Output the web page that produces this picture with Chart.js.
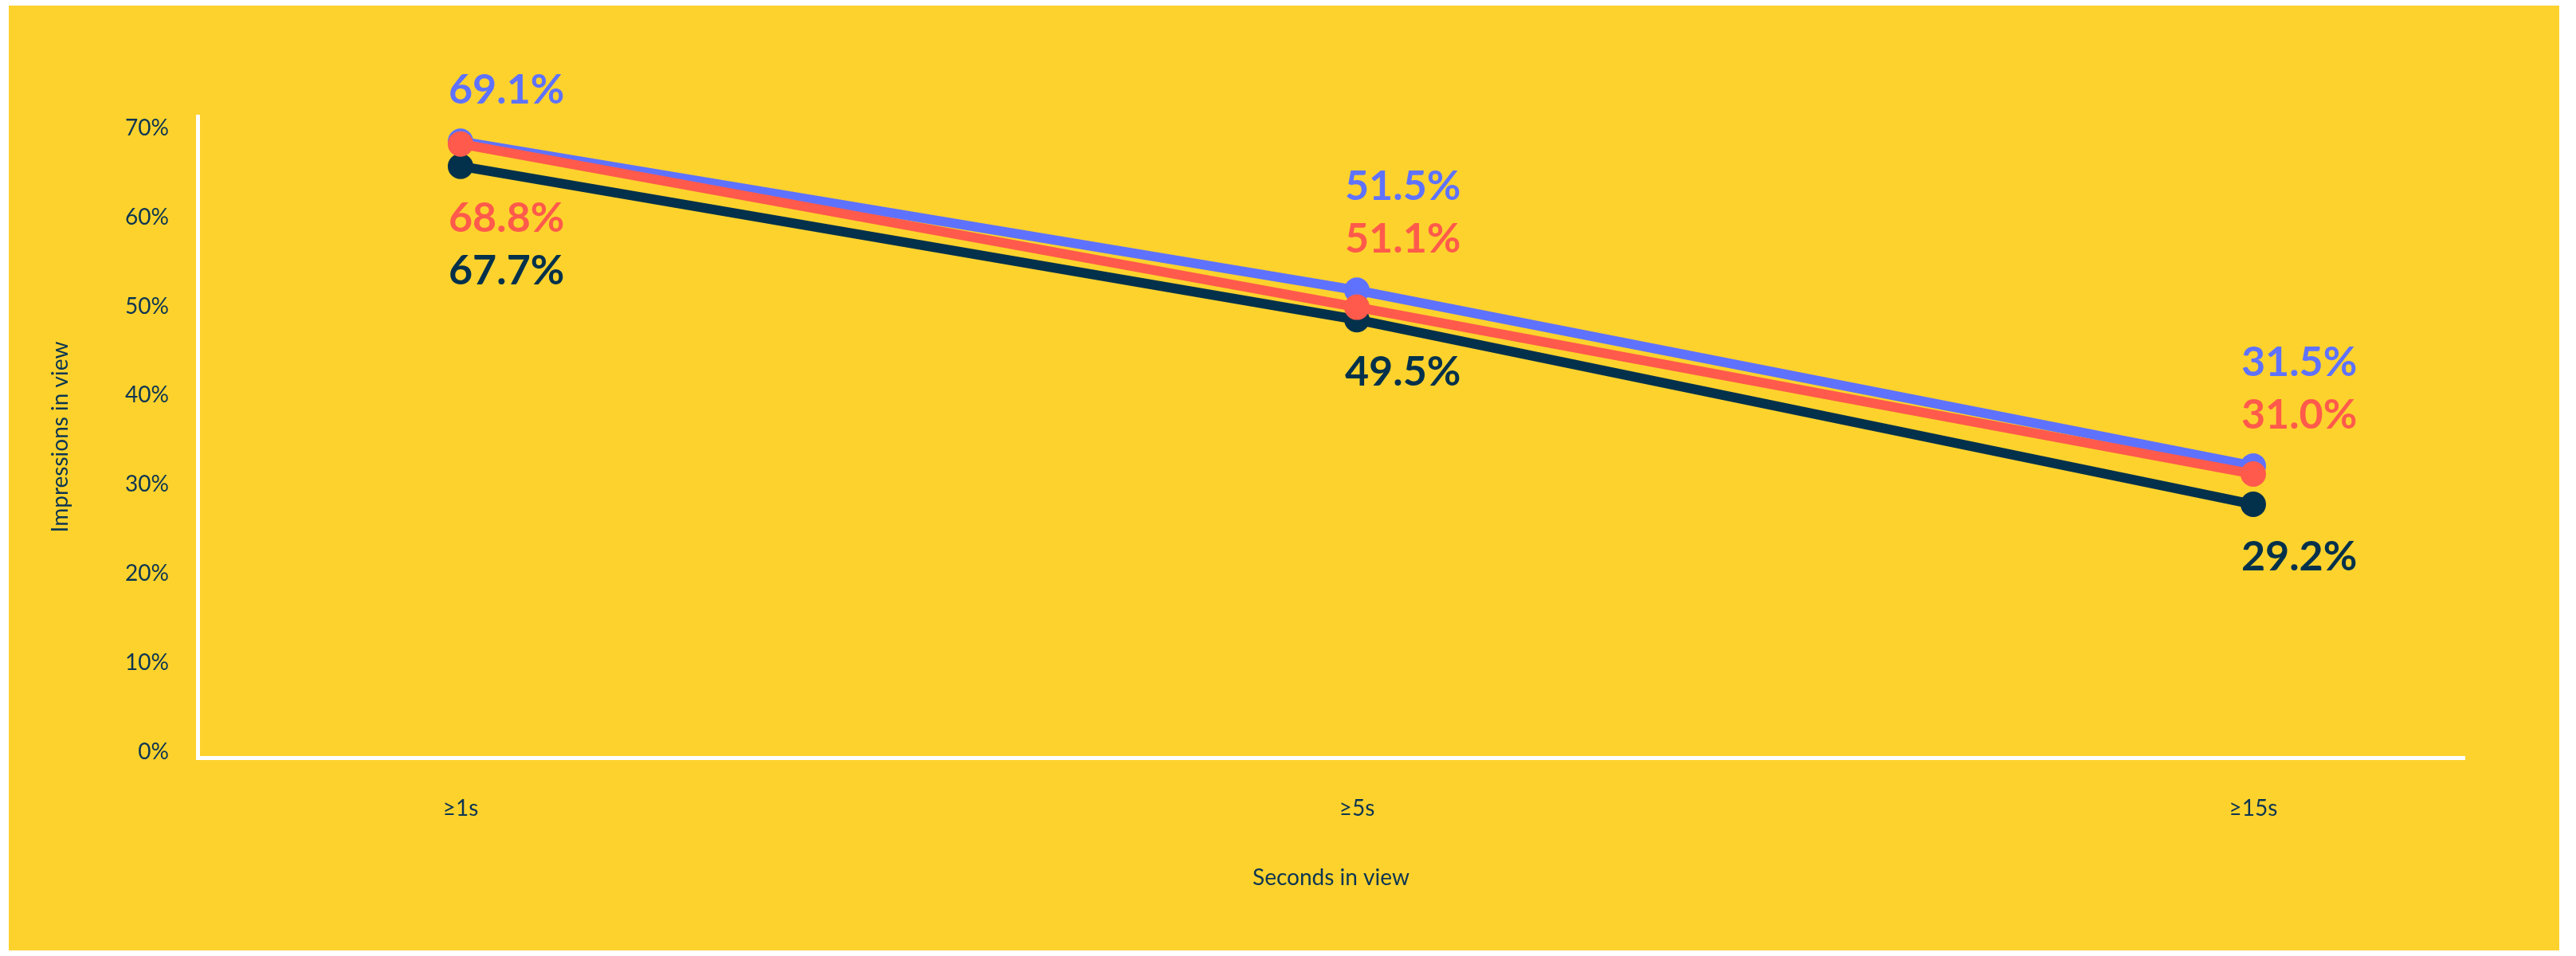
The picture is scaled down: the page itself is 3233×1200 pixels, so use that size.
<!DOCTYPE html>
<html>
<head>
<meta charset="utf-8">
<script src="https://cdn.jsdelivr.net/npm/chart.js@4"></script>
<style>
  html, body { margin: 0; padding: 0; background: #ffffff; }
  #panel {
    position: absolute; left: 11px; top: 7px;
    width: 3201px; height: 1186px;
    background: #fdd22d;
  }
  canvas { display: block; }
</style>
</head>
<body>
<div id="panel"><canvas id="chart" width="3201" height="1186"></canvas></div>
<script>
// categories on the x axis
const categories = ['≥1s', '≥5s', '≥15s'];
// where the points sit
const blue_values = [68.5, 51.8, 32.1];
const red_values = [68.2, 49.9, 31.2];
const navy_values = [65.7, 48.5, 27.8];
// what the labels next to the points say
const blue_labels = ['69.1%', '51.5%', '31.5%'];
const red_labels = ['68.8%', '51.1%', '31.0%'];
const navy_labels = ['67.7%', '49.5%', '29.2%'];
const y_ticks = [0, 10, 20, 30, 40, 50, 60, 70];

const colors = {
    blue: '#5f72fd',
    red: '#ff5a4b',
    navy: '#03314b',
    text: '#0c3552',
    axis: '#ffffff'
};

function to_points(values) {
    return values.map((v, i) => ({ x: i, y: v }));
}

function make_dataset(values, labels, color, order) {
    return {
        data: to_points(values),
        value_labels: labels,
        borderColor: color,
        backgroundColor: color,
        borderWidth: 12,
        pointRadius: 16,
        pointHoverRadius: 16,
        pointBorderWidth: 0,
        pointBackgroundColor: color,
        tension: 0,
        order: order
    };
}

// draws the big coloured percentages, stacked above / below the points
const value_labels_plugin = {
    id: 'valueLabels',
    afterDatasetsDraw(chart, args, opts) {
        const ctx = chart.ctx;
        const datasets = chart.data.datasets;
        ctx.save();
        ctx.font = opts.font;
        ctx.textAlign = 'left';
        ctx.textBaseline = 'middle';
        categories.forEach((cat, i) => {
            const ys = datasets.map((ds, d) => chart.getDatasetMeta(d).data[i].y);
            const x = chart.getDatasetMeta(0).data[i].x + opts.dx;
            const top = Math.min(...ys);
            const bottom = Math.max(...ys);
            const n_above = opts.above[i];
            datasets.forEach((ds, d) => {
                let y;
                if (d < n_above) {
                    y = top - opts.gapAbove - (n_above - 1 - d) * opts.lineGap;
                } else {
                    y = bottom + opts.gapBelow + (d - n_above) * opts.lineGap;
                }
                ctx.fillStyle = ds.borderColor;
                ctx.fillText(ds.value_labels[i], x, y);
            });
        });
        ctx.restore();
    }
};

function draw_chart() {
    const container = document.getElementById('chart');
    const config = {
        type: 'line',
        data: {
            datasets: [
                make_dataset(blue_values, blue_labels, colors.blue, 1),
                make_dataset(red_values, red_labels, colors.red, 0),
                make_dataset(navy_values, navy_labels, colors.navy, 2)
            ]
        },
        options: {
            responsive: false,
            animation: false,
            devicePixelRatio: 1,
            layout: {
                padding: { top: 139, right: 119, bottom: 0, left: 0 }
            },
            scales: {
                x: {
                    type: 'linear',
                    min: -0.2933,
                    max: 2.2356,
                    afterBuildTicks: (scale) => {
                        scale.ticks = categories.map((c, i) => ({ value: i }));
                    },
                    afterFit: (scale) => { scale.height = 242; },
                    grid: { display: false, drawTicks: false },
                    border: { display: true, color: colors.axis, width: 5 },
                    ticks: {
                        autoSkip: false,
                        maxRotation: 0,
                        padding: 47,
                        color: colors.text,
                        font: { family: 'Lato', size: 28 },
                        callback: (value) => categories[value]
                    },
                    title: {
                        display: true,
                        text: 'Seconds in view',
                        color: colors.text,
                        font: { family: 'Lato', size: 28 },
                        padding: { top: 0, bottom: 74 }
                    }
                },
                y: {
                    min: -0.6,
                    max: 71.3,
                    afterBuildTicks: (scale) => {
                        scale.ticks = y_ticks.map(v => ({ value: v }));
                    },
                    afterFit: (scale) => { scale.width = 237; },
                    grid: { display: false, drawTicks: false },
                    border: { display: true, color: colors.axis, width: 5 },
                    ticks: {
                        padding: 36,
                        color: colors.text,
                        font: { family: 'Lato', size: 28 },
                        callback: (value) => value + '%'
                    },
                    title: {
                        display: true,
                        text: 'Impressions in view',
                        color: colors.text,
                        font: { family: 'Lato', size: 28 },
                        padding: { top: 48, bottom: 0 }
                    }
                }
            },
            plugins: {
                legend: { display: false },
                tooltip: { enabled: false },
                valueLabels: {
                    font: 'bold 52px Lato',
                    dx: -15,
                    above: [1, 2, 2],
                    gapAbove: 64,
                    gapBelow: 66,
                    lineGap: 66
                }
            }
        },
        plugins: [value_labels_plugin]
    };
    new Chart(container, config);
}

document.fonts.load('bold 52px Lato').then(draw_chart, draw_chart);
</script>
</body>
</html>
